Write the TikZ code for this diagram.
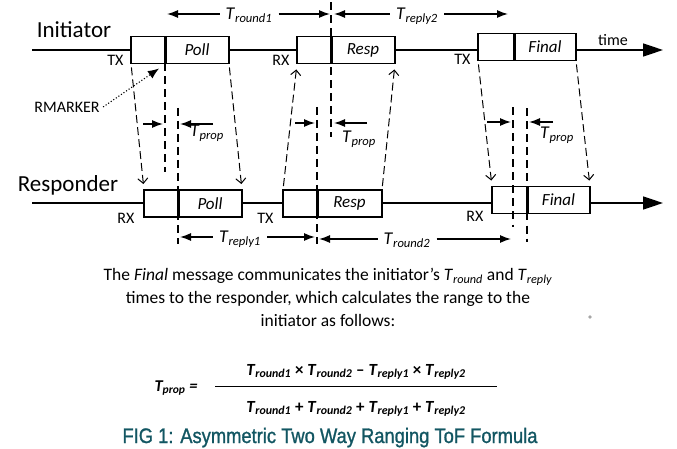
\documentclass[tikz,border=0pt]{standalone}
\usepackage{fontspec}
\setmainfont{Carlito}
\newfontfamily\capfont[FakeBold=1.2]{Liberation Sans}
\usepackage{tikz}
\usetikzlibrary{calc,positioning,arrows.meta}
\definecolor{figteal}{RGB}{18,86,98}
\newcommand\Tsb[1]{\textit{T}\textsubscript{\textit{#1}}}
\newcommand\Tbf[1]{\textbf{\textit{T}\textsubscript{\textit{#1}}}}

\begin{document}
\begin{tikzpicture}[x=1pt,y=-1pt,
	pre/.style={draw,line width=1.2pt,fill=white,minimum width=34pt,minimum height=27pt,inner sep=0pt,outer sep=0pt},
	msg/.style={pre,minimum width=64pt,font=\fontsize{17}{17}\selectfont\itshape},
	sig/.style={dash pattern=on 8pt off 4pt,line width=1pt,shorten <=4pt,shorten >=6pt,-{Straight Barb[length=5pt,width=10pt]}},
	vline/.style={dash pattern=on 8pt off 5pt,line width=1.5pt},
	dim/.style={line width=1.3pt,-{Latex[length=11pt,width=8pt]}},
	lbl/.style={font=\fontsize{16}{16}\selectfont},
	tlbl/.style={font=\fontsize{18}{18}\selectfont,inner xsep=6pt,inner ysep=0pt,text depth=0pt},
	axis/.style={line width=1.5pt,-{Triangle[length=20pt,width=13pt]}}]
	\useasboundingbox (0,0) rectangle (677,449);
	% time lines
	\coordinate (i0) at (32,50);
	\coordinate (i1) at (663,50);
	\coordinate (r0) at (32,203);
	\coordinate (r1) at (663,203);
	\draw[axis] (i0) -- (i1);
	\draw[axis] (r0) -- (r1);
	\node(init) [anchor=base,font=\fontsize{23}{23}\selectfont] at (74,38) {Initiator};
	\node(resp) [anchor=base,font=\fontsize{23}{23}\selectfont] at (68,192) {Responder};
	\node(time) [font=\fontsize{16}{16}\selectfont] at (613,40) {time};
	% initiator frames
	\node(ipre1) [pre,anchor=west] at (131,50) {};
	\node(ipoll) [msg,right=0pt of ipre1] {Poll};
	\node(ipre2) [pre,anchor=west] at (297,50) {};
	\node(iresp) [msg,right=0pt of ipre2] {Resp};
	\node(ipre3) [pre,anchor=west,minimum width=36pt] at (478,47) {};
	\node(ifinal) [msg,right=0pt of ipre3,minimum width=62pt] {Final};
	% responder frames
	\node(rpre1) [pre,anchor=west] at (144,203.5) {};
	\node(rpoll) [msg,right=0pt of rpre1] {Poll};
	\node(rpre2) [pre,anchor=west] at (283,203.5) {};
	\node(rresp) [msg,right=0pt of rpre2,minimum width=65pt] {Resp};
	\node(rpre3) [pre,anchor=west,minimum width=35pt] at (492,200) {};
	\node(rfinal) [msg,right=0pt of rpre3,minimum width=63pt] {Final};
	\foreach \f in {ipoll,iresp,ifinal,rpoll,rresp,rfinal}
		\draw[line width=3pt] (\f.north west) -- (\f.south west);
	\node(itx1) [lbl,anchor=east] at ($(ipre1.south west)+(-4,-3)$) {TX};
	\node(irx2) [lbl,anchor=east] at ($(ipre2.south west)+(-4,-3)$) {RX};
	\node(itx3) [lbl,anchor=east] at ($(ipre3.south west)+(-4,-1)$) {TX};
	\node(rrx1) [lbl,anchor=east] at ($(rpre1.south west)+(-6,1)$) {RX};
	\node(rtx2) [lbl,anchor=east] at ($(rpre2.south west)+(-6,1)$) {TX};
	\node(rrx3) [lbl,anchor=east] at ($(rpre3.south west)+(-5,3)$) {RX};
	% messages on air
	\draw[sig] (ipre1.south west) -- (rpre1.north west);
	\draw[sig] (ipoll.south east) -- (rpoll.north east);
	\draw[sig] (rpre2.north west) -- (ipre2.south west);
	\draw[sig] (rresp.north east) -- (iresp.south east);
	\draw[sig] (ipre3.south west) -- (rpre3.north west);
	\draw[sig] (ifinal.south east) -- (rfinal.north east);
	% rmarker lines
	\coordinate (v1) at ($(ipoll.south west)+(0,109)$);
	\coordinate (v2a) at ($(rpoll.south west)+(0,-109)$);
	\coordinate (v2b) at ($(rpoll.south west)+(0,27)$);
	\coordinate (v3a) at ($(iresp.north west)+(0,-34)$);
	\coordinate (v3b) at ($(iresp.south west)+(0,74)$);
	\coordinate (v4a) at ($(rresp.south west)+(0,-110)$);
	\coordinate (v4b) at ($(rresp.south west)+(0,27)$);
	\coordinate (v5a) at ($(ifinal.south west)+(-1,47)$);
	\coordinate (v5b) at ($(ifinal.south west)+(-1,166)$);
	\coordinate (v6a) at ($(rfinal.south west)+(0,-105)$);
	\coordinate (v6b) at ($(rfinal.south west)+(0,28)$);
	\draw[vline] (ipoll.south west) -- (v1);
	\draw[vline] (v2a) -- (v2b);
	\draw[vline] (v3a) -- (v3b);
	\draw[vline] (v4a) -- (v4b);
	\draw[vline] (v5a) -- (v5b);
	\draw[vline] (v6a) -- (v6b);
	\node(rmk) [lbl] at (67,107) {RMARKER};
	\draw[line width=1.1pt,dotted,-{Latex[length=11pt,width=9pt]}] (rmk.east) -- ($(ipoll.south west)+(-6,5)$);
	% round and reply times
	\node(tr1) [tlbl] at (249,14) {\Tsb{round1}};
	\draw[dim] (tr1.west) -- (tr1.west -| 167,0);
	\draw[dim] (tr1.east) -- (tr1.east -| 330,0);
	\node(tp2) [tlbl] at (417,14) {\Tsb{reply2}};
	\draw[dim] (tp2.west) -- (tp2.west -| 334,0);
	\draw[dim] (tp2.east) -- (tp2.east -| 508,0);
	\node(tp1) [tlbl] at (240,237) {\Tsb{reply1}};
	\draw[dim] (tp1.west) -- (tp1.west -| 180,0);
	\draw[dim] (tp1.east) -- (tp1.east -| 315,0);
	\node(tr2) [tlbl] at (407,239) {\Tsb{round2}};
	\draw[dim] (tr2.west) -- (tr2.west -| 319,0);
	\draw[dim] (tr2.east) -- (tr2.east -| 511,0);
	% propagation times
	\node(tq1) [tlbl,inner xsep=0pt] at (207,131) {\Tsb{prop}};
	\draw[dim] (143,124) -- (163,124);
	\draw[dim] (213,124) -- (180,124);
	\node(tq2) [tlbl,inner xsep=0pt] at (359,137) {\Tsb{prop}};
	\draw[dim] (295,123) -- (315,123);
	\draw[dim] (367,123) -- (334,123);
	\node(tq3) [tlbl,inner xsep=0pt] at (557,133) {\Tsb{prop}};
	\draw[dim] (487,122) -- (511,122);
	\draw[dim] (553,122) -- (529,122);
	% text and formula
	\node(txt) [anchor=north,align=center,font=\fontsize{17.5}{23}\selectfont] at (328,265)
		{The \textit{Final} message communicates the initiator’s \Tsb{round} and \Tsb{reply}\\
		times to the responder, which calculates the range to the\\
		initiator as follows:};
	\fill[gray!70] (590,317) circle (1.8);
	\node(lhs) [font=\fontsize{16.5}{16.5}\selectfont\bfseries\itshape] at (176,388) {\Tbf{prop} =};
	\coordinate (fl) at (215,386);
	\coordinate (fr) at (497,386);
	\draw[line width=1pt] (fl) -- (fr);
	\node(num) [anchor=base,font=\fontsize{17}{17}\selectfont\bfseries] at (356,375)
		{\Tbf{round1} × \Tbf{round2} – \Tbf{reply1} × \Tbf{reply2}};
	\node(den) [anchor=base,font=\fontsize{17}{17}\selectfont\bfseries] at (356,412)
		{\Tbf{round1} + \Tbf{round2} + \Tbf{reply1} + \Tbf{reply2}};
	\node(cap) [anchor=base,text=figteal,font=\capfont\fontsize{21}{21}\selectfont] at (330,443)
		{\resizebox{415pt}{\height}{FIG 1: Asymmetric Two Way Ranging ToF Formula}};
\end{tikzpicture}
\end{document}
